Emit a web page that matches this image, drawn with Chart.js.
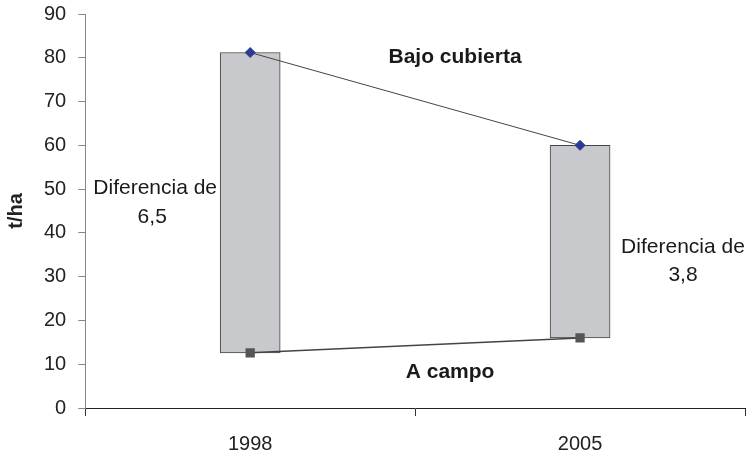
<!DOCTYPE html>
<html>
<head>
<meta charset="utf-8">
<script src="https://cdn.jsdelivr.net/npm/chart.js@4"></script>
<style>
  html, body { margin: 0; padding: 0; background: #fff; }
  #wrap { width: 755px; height: 457px; }
</style>
</head>
<body>
<div id="wrap"><canvas id="chart"></canvas></div>
<script>
const years = ['1998', '2005'];
const bajoCubierta = [81.2, 60.0];
const aCampo = [12.6, 16.0];
const yTicks = [0, 10, 20, 30, 40, 50, 60, 70, 80, 90];

// text notes placed in data coordinates (x = category index)
const notes = [
  { text: 'Bajo cubierta', x: 0.621, y: 80.2, bold: true },
  { text: 'A campo', x: 0.606, y: 8.2, bold: true },
  { text: 'Diferencia de', x: -0.288, y: 50.1 },
  { text: '6,5', x: -0.297, y: 43.6 },
  { text: 'Diferencia de', x: 1.312, y: 36.8 },
  { text: '3,8', x: 1.312, y: 30.4 },
];

const FONT = '"Liberation Sans", Arial, sans-serif';

// drawn before the datasets so the bar covers the end of the left note
const notesPlugin = {
  id: 'notes',
  beforeDatasetsDraw(chart) {
    const { ctx, scales } = chart;
    ctx.save();
    ctx.fillStyle = '#1a1a1a';
    ctx.textAlign = 'center';
    ctx.textBaseline = 'middle';
    notes.forEach(n => {
      ctx.font = (n.bold ? 'bold ' : '') + '21px ' + FONT;
      ctx.fillText(n.text, scales.x.getPixelForValue(n.x), scales.y.getPixelForValue(n.y));
    });
    ctx.restore();
  }
};

const ctx = document.getElementById('chart').getContext('2d');
new Chart(ctx, {
  data: {
    labels: years,
    datasets: [
      {
        type: 'line',
        label: 'Bajo cubierta',
        data: bajoCubierta,
        borderColor: '#444',
        borderWidth: 1,
        pointStyle: 'rectRot',
        pointRadius: 5,
        pointBackgroundColor: '#2b3a94',
        pointBorderColor: '#2b3a94',
        order: 0,
      },
      {
        type: 'line',
        label: 'A campo',
        data: aCampo,
        borderColor: '#444',
        borderWidth: 1.5,
        pointStyle: 'rect',
        pointRadius: 5.5,
        pointBackgroundColor: '#555',
        pointBorderColor: '#555',
        order: 0,
      },
      {
        type: 'bar',
        label: 'Diferencia',
        data: years.map((y, i) => [aCampo[i], bajoCubierta[i]]),
        backgroundColor: '#c8c9cd',
        borderColor: '#444',
        borderWidth: 1,
        borderSkipped: false,
        barThickness: 60,
        order: 1,
      },
    ],
  },
  options: {
    responsive: true,
    maintainAspectRatio: false,
    animation: false,
    layout: { padding: { top: 0, right: 10, left: 0, bottom: -15 } },
    plugins: { legend: { display: false }, tooltip: { enabled: false } },
    scales: {
      x: {
        type: 'category',
        offset: true,
        grid: { offset: true, drawOnChartArea: false, drawTicks: true, tickLength: 8, color: '#333' },
        border: { color: '#222', width: 1 },
        ticks: { color: '#222', font: { size: 20, family: FONT }, padding: 16 },
      },
      y: {
        min: 0,
        max: 90,
        afterBuildTicks: axis => { axis.ticks = yTicks.map(v => ({ value: v })); },
        afterFit: axis => { axis.paddingTop = 14; },
        grid: { drawOnChartArea: false, tickLength: 7, color: '#888' },
        border: { color: '#888', width: 1 },
        ticks: { color: '#222', font: { size: 20, family: FONT }, padding: 12 },
        title: {
          display: true, text: 't/ha', color: '#222',
          font: { size: 20, weight: 'bold', family: FONT },
          padding: { top: 4, bottom: 4 },
        },
      },
    },
  },
  plugins: [notesPlugin],
});
</script>
</body>
</html>
